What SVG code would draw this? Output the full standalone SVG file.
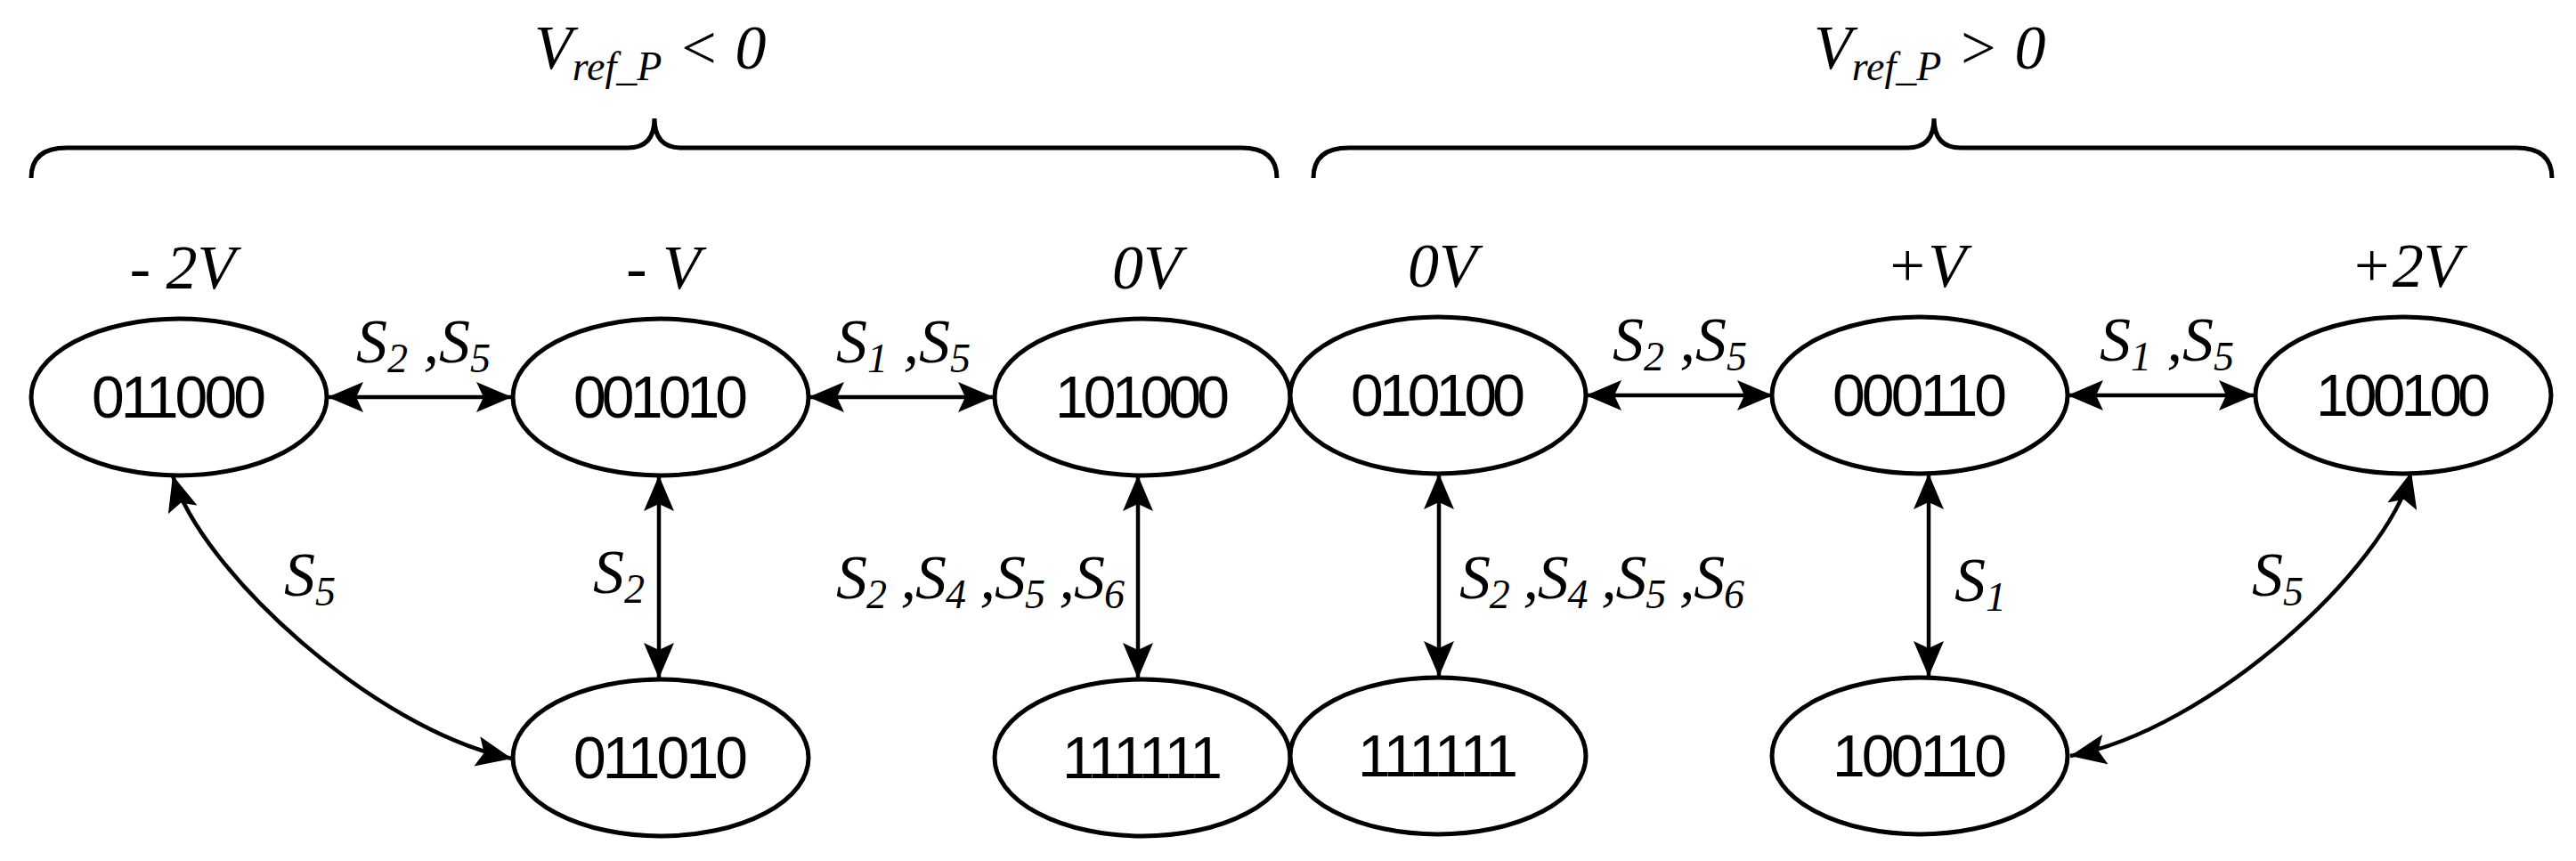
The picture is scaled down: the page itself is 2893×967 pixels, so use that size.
<svg xmlns="http://www.w3.org/2000/svg" width="2893" height="967" viewBox="0 0 2893 967">
<style>
.n{fill:#fff;stroke:#000;stroke-width:5}
.t{font-family:"Liberation Sans",Arial,sans-serif;font-size:66px;text-anchor:middle}
.i{font-family:"Liberation Serif","Times New Roman",serif;font-style:italic;font-size:70px}
.s{font-size:46px}
.c{fill:none;stroke:#000;stroke-width:4.5}
.b{fill:none;stroke:#000;stroke-width:5}
</style>
<defs>
<marker id="a" markerUnits="userSpaceOnUse" markerWidth="40" markerHeight="34" refX="40" refY="17" orient="auto-start-reverse" viewBox="0 0 40 34">
<path d="M0,0 L40,17 L0,34 L8,17 Z" fill="#000"/>
</marker>
</defs>
<rect width="2893" height="967" fill="#fff"/>
<g id="braces">
<path class="b" d="M35,200 Q35,166 75,166 L705,166 Q735,166 735,133 Q735,166 765,166 L1394,166 Q1434,166 1434,200"/>
<path class="b" d="M1475,200 Q1475,166 1515,166 L2142,166 Q2172,166 2172,133 Q2172,166 2202,166 L2826,166 Q2866,166 2866,200"/>
<text class="i" x="600" y="77" font-size="76">V<tspan class="s" font-size="50" dy="13">ref_P</tspan><tspan dy="-13"> &lt; 0</tspan></text>
<text class="i" x="2037" y="77" font-size="76">V<tspan class="s" font-size="50" dy="13">ref_P</tspan><tspan dy="-13"> &gt; 0</tspan></text>
</g>
<g id="levels" class="i" text-anchor="middle">
<text x="205" y="324">- 2V</text>
<text x="745" y="324">- V</text>
<text x="1288" y="324">0V</text>
<text x="1620" y="322">0V</text>
<text x="2163" y="322">+V</text>
<text x="2702" y="322">+2V</text>
</g>
<g id="connectors">
<line class="c" x1="368" y1="446" x2="575" y2="446" marker-start="url(#a)" marker-end="url(#a)"/>
<line class="c" x1="908" y1="446" x2="1116" y2="446" marker-start="url(#a)" marker-end="url(#a)"/>
<line class="c" x1="1781" y1="444" x2="1991" y2="444" marker-start="url(#a)" marker-end="url(#a)"/>
<line class="c" x1="2322" y1="444" x2="2532" y2="444" marker-start="url(#a)" marker-end="url(#a)"/>
<line class="c" x1="740" y1="534" x2="740" y2="762" marker-start="url(#a)" marker-end="url(#a)"/>
<line class="c" x1="1278" y1="534" x2="1278" y2="762" marker-start="url(#a)" marker-end="url(#a)"/>
<line class="c" x1="1616" y1="532" x2="1616" y2="760" marker-start="url(#a)" marker-end="url(#a)"/>
<line class="c" x1="2166" y1="532" x2="2166" y2="760" marker-start="url(#a)" marker-end="url(#a)"/>
<path class="c" d="M194,534 C225,640 420,820 575,852" marker-start="url(#a)" marker-end="url(#a)"/>
<path class="c" d="M2708,530 C2679,640 2480,820 2325,849" marker-start="url(#a)" marker-end="url(#a)"/>
<g class="i">
<text x="400" y="407">S<tspan class="s" dy="11">2</tspan><tspan dy="-11"> ,S</tspan><tspan class="s" dy="11">5</tspan></text>
<text x="939" y="407">S<tspan class="s" dy="11">1</tspan><tspan dy="-11"> ,S</tspan><tspan class="s" dy="11">5</tspan></text>
<text x="1811" y="405">S<tspan class="s" dy="11">2</tspan><tspan dy="-11"> ,S</tspan><tspan class="s" dy="11">5</tspan></text>
<text x="2358" y="405">S<tspan class="s" dy="11">1</tspan><tspan dy="-11"> ,S</tspan><tspan class="s" dy="11">5</tspan></text>
<text x="319" y="669">S<tspan class="s" dy="11">5</tspan></text>
<text x="666" y="666">S<tspan class="s" dy="11">2</tspan></text>
<text x="939" y="672" textLength="324">S<tspan class="s" dy="11">2</tspan><tspan dy="-11"> ,S</tspan><tspan class="s" dy="11">4</tspan><tspan dy="-11"> ,S</tspan><tspan class="s" dy="11">5</tspan><tspan dy="-11"> ,S</tspan><tspan class="s" dy="11">6</tspan></text>
<text x="1639" y="672" textLength="320">S<tspan class="s" dy="11">2</tspan><tspan dy="-11"> ,S</tspan><tspan class="s" dy="11">4</tspan><tspan dy="-11"> ,S</tspan><tspan class="s" dy="11">5</tspan><tspan dy="-11"> ,S</tspan><tspan class="s" dy="11">6</tspan></text>
<text x="2195" y="675">S<tspan class="s" dy="11">1</tspan></text>
<text x="2529" y="669">S<tspan class="s" dy="11">5</tspan></text>
</g>
</g>
<g id="n011000"><ellipse class="n" cx="201" cy="446" rx="166" ry="88"/><text class="t" x="201" y="469" textLength="196">011000</text></g>
<g id="n001010"><ellipse class="n" cx="742" cy="446" rx="166" ry="88"/><text class="t" x="742" y="469" textLength="196">001010</text></g>
<g id="n101000"><ellipse class="n" cx="1283" cy="446" rx="166" ry="88"/><text class="t" x="1283" y="469" textLength="196">101000</text></g>
<g id="n011010"><ellipse class="n" cx="742" cy="851" rx="166" ry="88"/><text class="t" x="742" y="874" textLength="196">011010</text></g>
<g id="n111111a"><ellipse class="n" cx="1283" cy="851" rx="166" ry="88"/><text class="t" x="1283" y="874" textLength="180">111111</text></g>
<g id="n010100"><ellipse class="n" cx="1615" cy="444" rx="166" ry="88"/><text class="t" x="1615" y="467" textLength="196">010100</text></g>
<g id="n000110"><ellipse class="n" cx="2156" cy="444" rx="166" ry="88"/><text class="t" x="2156" y="467" textLength="196">000110</text></g>
<g id="n100100"><ellipse class="n" cx="2699" cy="444" rx="166" ry="88"/><text class="t" x="2699" y="467" textLength="196">100100</text></g>
<g id="n111111b"><ellipse class="n" cx="1615" cy="849" rx="166" ry="88"/><text class="t" x="1615" y="872" textLength="180">111111</text></g>
<g id="n100110"><ellipse class="n" cx="2156" cy="849" rx="166" ry="88"/><text class="t" x="2156" y="872" textLength="196">100110</text></g>
</svg>
